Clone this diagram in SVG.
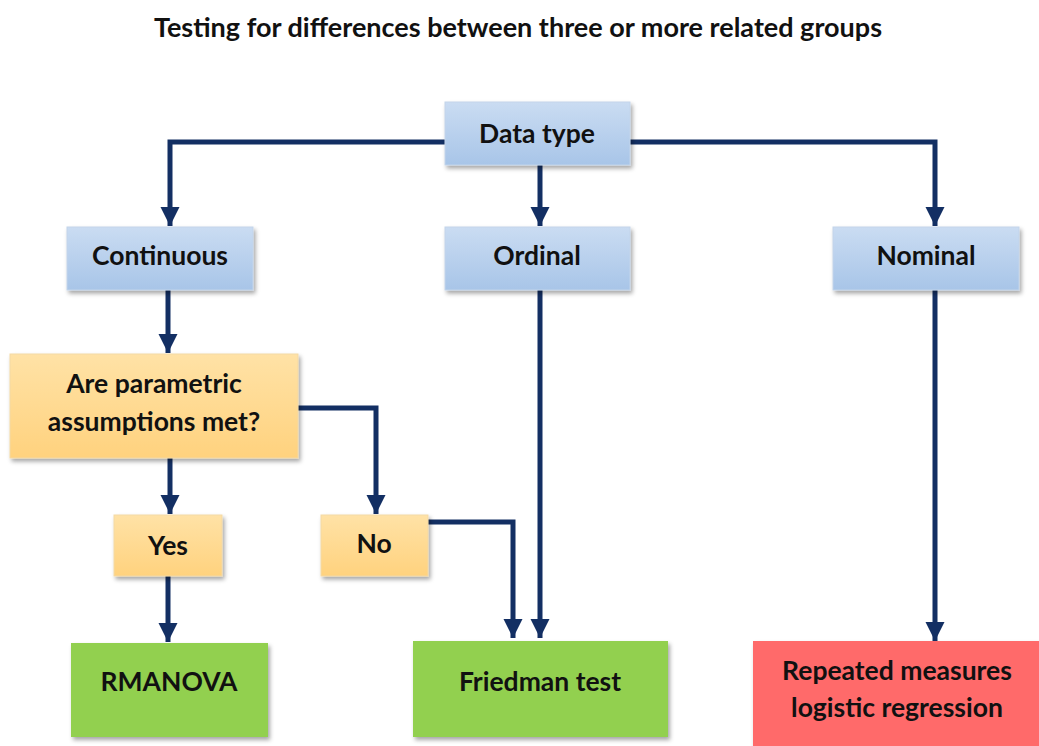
<svg xmlns="http://www.w3.org/2000/svg" width="1039" height="746" viewBox="0 0 1039 746">
  <defs>
    <linearGradient id="gBlue" x1="0" y1="0" x2="0" y2="1">
      <stop offset="0" stop-color="#CADCF2"/>
      <stop offset="1" stop-color="#A8C5E8"/>
    </linearGradient>
    <linearGradient id="gOrange" x1="0" y1="0" x2="0" y2="1">
      <stop offset="0" stop-color="#FFE2A6"/>
      <stop offset="1" stop-color="#FFD27E"/>
    </linearGradient>
    <filter id="shadow" x="-10%" y="-10%" width="125%" height="130%">
      <feDropShadow dx="2" dy="3" stdDeviation="2" flood-color="#000" flood-opacity="0.35"/>
    </filter>
    <!-- arrowhead drawn along +x so orient="auto" points it down the path -->
    <marker id="arrow" viewBox="0 0 10 10" refX="10" refY="5" markerWidth="3.8" markerHeight="4.1" markerUnits="strokeWidth" orient="auto">
      <path d="M0,0 L10,5 L0,10 Z" fill="#132F63"/>
    </marker>
  </defs>
  <style>
    text { font-family: Lato, "Liberation Sans", sans-serif; font-weight: bold; fill: #111; text-anchor: middle; dominant-baseline: central; }
    .lbl { font-size: 26.5px; }
    .title { font-size: 27px; }
    .blue { fill: url(#gBlue); stroke: #C3D4EA; stroke-width: 1; filter: url(#shadow); }
    .orange { fill: url(#gOrange); stroke: #F3D9A6; stroke-width: 1; filter: url(#shadow); }
    .green { fill: #92D050; filter: url(#shadow); }
    .red { fill: #FF6B6B; filter: url(#shadow); }
    .conn { fill: none; stroke: #132F63; stroke-width: 5; stroke-linejoin: miter; }
    .conn path { marker-end: url(#arrow); }
  </style>

  <rect width="1039" height="746" fill="#FFFFFF"/>

  <text class="title" x="518" y="26">Testing for differences between three or more related groups</text>

  <!-- connectors -->
  <g id="connectors" class="conn">
    <path d="M445,142 H170 V226"/>
    <path d="M540,165 V226"/>
    <path d="M630,142 H935 V226"/>
    <path d="M168,290 V353"/>
    <path d="M298,408 H376 V514"/>
    <path d="M170,458 V514"/>
    <path d="M168,576 V642"/>
    <path d="M428,522 H513 V638"/>
    <path d="M540,290 V638"/>
    <path d="M935,290 V641"/>
  </g>

  <g id="node-datatype">
    <rect class="blue" x="445" y="102" width="185" height="63"/>
    <text class="lbl" x="537" y="133">Data type</text>
  </g>
  <g id="node-continuous">
    <rect class="blue" x="67" y="227" width="186" height="63"/>
    <text class="lbl" x="160" y="255">Continuous</text>
  </g>
  <g id="node-ordinal">
    <rect class="blue" x="445" y="227" width="185" height="63"/>
    <text class="lbl" x="537" y="255">Ordinal</text>
  </g>
  <g id="node-nominal">
    <rect class="blue" x="833" y="227" width="186" height="63"/>
    <text class="lbl" x="926" y="255">Nominal</text>
  </g>
  <g id="node-parametric">
    <rect class="orange" x="10" y="354" width="288" height="104"/>
    <text class="lbl" x="154" y="383">Are parametric</text>
    <text class="lbl" x="154" y="421">assumptions met?</text>
  </g>
  <g id="node-yes">
    <rect class="orange" x="114" y="515" width="108" height="61"/>
    <text class="lbl" x="168" y="545">Yes</text>
  </g>
  <g id="node-no">
    <rect class="orange" x="321" y="515" width="107" height="61"/>
    <text class="lbl" x="374" y="543">No</text>
  </g>
  <g id="node-rmanova">
    <rect class="green" x="71" y="643" width="197" height="94"/>
    <text class="lbl" x="169" y="681">RMANOVA</text>
  </g>
  <g id="node-friedman">
    <rect class="green" x="413" y="641" width="255" height="96"/>
    <text class="lbl" x="540" y="681">Friedman test</text>
  </g>
  <g id="node-logistic">
    <rect class="red" x="753" y="641" width="300" height="110"/>
    <text class="lbl" x="897" y="670">Repeated measures</text>
    <text class="lbl" x="897" y="707">logistic regression</text>
  </g>
</svg>
